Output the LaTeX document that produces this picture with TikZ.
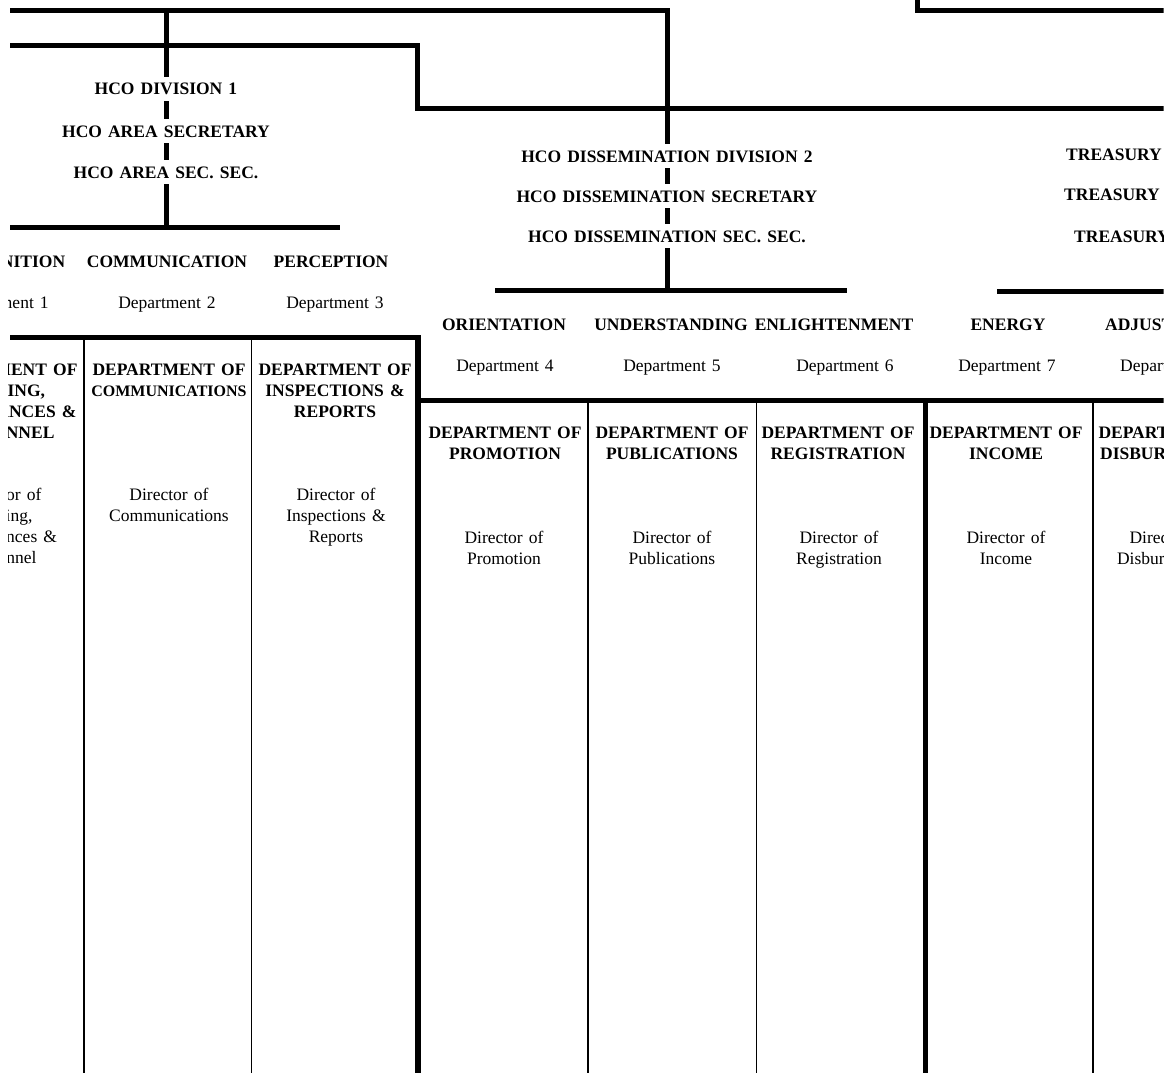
\documentclass[tikz,border=0pt]{standalone}
\usepackage{fontspec}
\setmainfont{Liberation Serif}[WordSpace=1.4]
\begin{document}
\begin{tikzpicture}[x=1pt,y=-1pt,line join=miter,
  heavy/.style={line width=5pt},
  heavier/.style={line width=6pt},
  light/.style={line width=1.1pt},
  capfont/.style={font=\fontsize{17.5}{21}\selectfont\bfseries},
  romfont/.style={font=\fontsize{17.5}{21}\selectfont},
  lbl/.style={capfont, text height=12pt, text depth=0pt, inner xsep=0pt, inner ysep=6pt, anchor=center},
  sub/.style={romfont, text height=12pt, text depth=0pt, inner sep=0pt, anchor=center},
  ttl/.style={capfont, align=center, inner sep=0pt, anchor=north},
  dir/.style={romfont, align=center, inner sep=0pt, anchor=north}]
\useasboundingbox (0,0) rectangle (1176,1073);
\begin{scope}
\clip (8,-10) rectangle (1163.5,1073);
% ---------- coordinates of the wiring ----------
\coordinate (aL) at (10,10.5);
\coordinate (v1top) at (166,10.5);
\coordinate (v2top) at (667,10.5);
\coordinate (bL) at (10,45.5);
\coordinate (bC1) at (417.5,45.5);
\coordinate (bC2) at (417.5,108.5);
\coordinate (bR) at (1172,108.5);
\coordinate (cT) at (917,-8);
\coordinate (cC) at (917,10.5);
\coordinate (cR) at (1172,10.5);
\coordinate (bar1L) at (10,227.5);
\coordinate (bar1m) at (166,227.5);
\coordinate (bar1R) at (340,227.5);
\coordinate (bar2L) at (495,290.5);
\coordinate (bar2m) at (667,290.5);
\coordinate (bar2R) at (847,290.5);
\coordinate (bar3L) at (997,291.5);
\coordinate (bar3R) at (1172,291.5);
% ---------- division labels ----------
\node[lbl] (d1) at (166,89) {HCO DIVISION 1};
\node[lbl] (s1) at (166,131) {HCO AREA SECRETARY};
\node[lbl] (ss1) at (166,172) {HCO AREA SEC. SEC.};
\node[lbl] (d2) at (667,156) {HCO DISSEMINATION DIVISION 2};
\node[lbl] (s2) at (667,196) {HCO DISSEMINATION SECRETARY};
\node[lbl] (ss2) at (667,236) {HCO DISSEMINATION SEC. SEC.};
\node[lbl,anchor=west] (d3) at (1066,154) {TREASURY DIVISION 3};
\node[lbl,anchor=west] (s3) at (1064,194) {TREASURY SECRETARY};
\node[lbl,anchor=west] (ss3) at (1074,236) {TREASURY SEC. SEC.};
% ---------- wiring ----------
\draw[heavy] (aL) -- (v2top) -- (d2.north);
\draw[heavy] (bL) -- (bC1) -- (bC2) -- (bR);
\draw[heavy] (cT) -- (cC) -- (cR);
\draw[heavy] (v1top) -- (d1.north);
\draw[heavy] (d1.south) -- (s1.north);
\draw[heavy] (s1.south) -- (ss1.north);
\draw[heavy] (ss1.south) -- (bar1m);
\draw[heavy] (d2.south) -- (s2.north);
\draw[heavy] (s2.south) -- (ss2.north);
\draw[heavy] (ss2.south) -- (bar2m);
\draw[heavy] (bar1L) -- (bar1R);
\draw[heavy] (bar2L) -- (bar2R);
\draw[heavy] (bar3L) -- (bar3R);
% ---------- department headers ----------
\node[lbl] (h1) at (1,261) {RECOGNITION};
\node[lbl] (h2) at (167,261) {COMMUNICATION};
\node[lbl] (h3) at (331,261) {PERCEPTION};
\node[sub] (n1) at (0,302) {Department 1};
\node[sub] (n2) at (167,302) {Department 2};
\node[sub] (n3) at (335,302) {Department 3};
\node[lbl] (h4) at (504,324) {ORIENTATION};
\node[lbl] (h5) at (671,324) {UNDERSTANDING};
\node[lbl] (h6) at (834,324) {ENLIGHTENMENT};
\node[lbl] (h7) at (1008,324) {ENERGY};
\node[lbl,anchor=west] (h8) at (1105,324) {ADJUSTMENT};
\node[sub] (n4) at (505,365) {Department 4};
\node[sub] (n5) at (672,365) {Department 5};
\node[sub] (n6) at (845,365) {Department 6};
\node[sub] (n7) at (1007,365) {Department 7};
\node[sub,anchor=west] (n8) at (1120,365) {Department 8};
% ---------- department boxes ----------
\draw[heavy] (10,337.5) -- (418,337.5);
\draw[heavier] (418,335) -- (418,1080);
\draw[heavy] (418,400.5) -- (1172,400.5);
\draw[heavy] (925,400.5) -- (925,1080);
\draw[light] (84,337.5) -- (84,1080);
\draw[light] (251.5,337.5) -- (251.5,1080);
\draw[light] (588,400.5) -- (588,1080);
\draw[light] (756.5,400.5) -- (756.5,1080);
\draw[light] (1093,400.5) -- (1093,1080);
% ---------- box titles ----------
\node[ttl] (t1) at (1,363.4) {DEPARTMENT OF\\ROUTING,\\APPEARANCES \&\\PERSONNEL};
\node[ttl] (t2) at (169,363.4) {DEPARTMENT OF\\{\fontsize{16}{21}\selectfont COMMUNICATIONS}};
\node[ttl] (t3) at (335,363.4) {DEPARTMENT OF\\INSPECTIONS \&\\REPORTS};
\node[ttl] (t4) at (505,426.4) {DEPARTMENT OF\\PROMOTION};
\node[ttl] (t5) at (672,426.4) {DEPARTMENT OF\\PUBLICATIONS};
\node[ttl] (t6) at (838,426.4) {DEPARTMENT OF\\REGISTRATION};
\node[ttl] (t7) at (1006,426.4) {DEPARTMENT OF\\INCOME};
\node[ttl] (t8) at (1175,426.4) {DEPARTMENT OF\\DISBURSEMENTS};
% ---------- directors ----------
\node[dir] (r1) at (2,488) {Director of\\Routing,\\Appearances \&\\Personnel};
\node[dir] (r2) at (169,488) {Director of\\Communications};
\node[dir] (r3) at (336,488) {Director of\\Inspections \&\\Reports};
\node[dir] (r4) at (504,531) {Director of\\Promotion};
\node[dir] (r5) at (672,531) {Director of\\Publications};
\node[dir] (r6) at (839,531) {Director of\\Registration};
\node[dir] (r7) at (1006,531) {Director of\\Income};
\node[dir] (r8) at (1169,531) {Director of\\Disbursements};
\end{scope}
\end{tikzpicture}
\end{document}
